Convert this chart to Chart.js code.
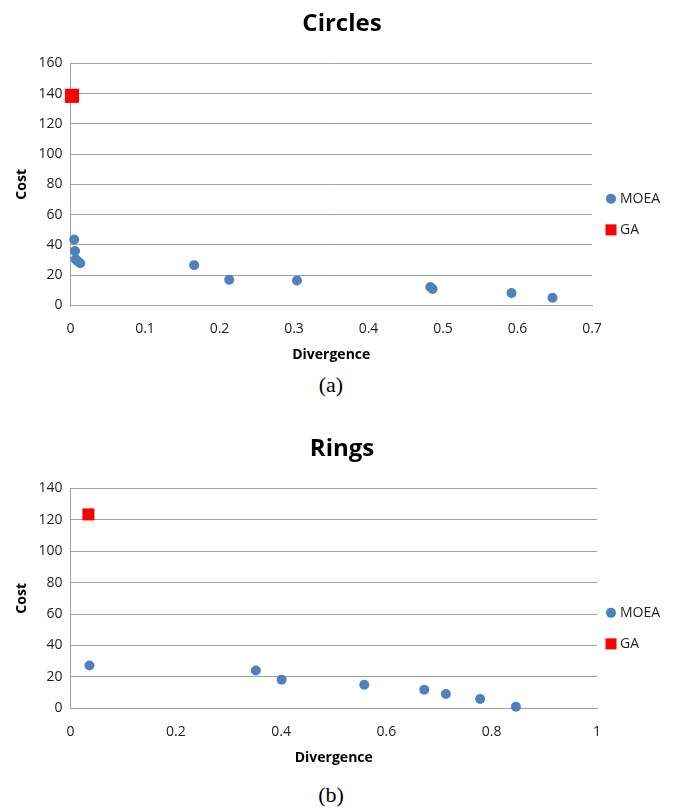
<!DOCTYPE html>
<html>
<head>
<meta charset="utf-8">
<script src="https://cdn.jsdelivr.net/npm/chart.js@4.4.0/dist/chart.umd.min.js"></script>
<style>
  body { margin: 0; background: #fff; width: 677px; height: 810px; position: relative; overflow: hidden; }
  .box { position: absolute; left: 0; width: 677px; }
  .cap { position: absolute; left: 0; width: 662px; text-align: center; font-family: "Liberation Serif", serif; font-size: 22px; line-height: 22px; color: #000; }
</style>
</head>
<body>
<div class="box" style="top:0;height:363px"><canvas id="circles"></canvas></div>
<div class="cap" style="top:374px">(a)</div>
<div class="box" style="top:425px;height:341px"><canvas id="rings"></canvas></div>
<div class="cap" style="top:784px">(b)</div>
<script>
// Circles (a)
const circlesMoeaX = [0.005, 0.006, 0.007, 0.010, 0.013, 0.166, 0.213, 0.304, 0.483, 0.486, 0.592, 0.647]
const circlesMoeaY = [43.6, 35.9, 30.4, 29.0, 27.9, 26.6, 17.0, 16.4, 12.2, 10.8, 8.2, 5.1]
const circlesGaX = [0.002]
const circlesGaY = [138.5]

// Rings (b)
const ringsMoeaX = [0.036, 0.352, 0.401, 0.558, 0.672, 0.713, 0.778, 0.846]
const ringsMoeaY = [27.3, 24.1, 18.3, 15.1, 11.9, 9.2, 6.0, 1.1]
const ringsGaX = [0.034]
const ringsGaY = [123.4]

const seriesNames = ["MOEA", "GA"]

const BLUE = "#4f81bd"
const RED = "#ff0000"
const GRID = "#a0a0a0"
const TEXT = "#222222"

Chart.defaults.font.family = "'Open Sans', sans-serif"

function toPoints(xs, ys) {
  return xs.map((x, i) => ({ x: x, y: ys[i] }))
}

// legend drawn to the right of the plot, like the Excel one
const sideLegend = {
  id: "sideLegend",
  afterDraw(chart) {
    const { ctx, chartArea } = chart
    const mid = (chartArea.top + chartArea.bottom) / 2 + 30
    ctx.save()
    ctx.font = "14px 'Open Sans'"
    ctx.textBaseline = "middle"
    chart.data.datasets.forEach((ds, i) => {
      const y = mid + (i - 0.5) * 31
      ctx.fillStyle = ds.backgroundColor
      if (ds.pointStyle === "rect") {
        ctx.fillRect(605.5, y - 5.5, 11, 11)
      } else {
        ctx.beginPath()
        ctx.arc(611, y, 5, 0, Math.PI * 2)
        ctx.fill()
      }
      ctx.fillStyle = TEXT
      ctx.fillText(ds.label, 620, y)
    })
    ctx.restore()
  },
}

function makeChart(id, title, moea, ga, xMax, xStep, yMax, gaRadius, rightPad) {
  return new Chart(document.getElementById(id), {
    type: "scatter",
    data: {
      datasets: [
        {
          label: seriesNames[0],
          data: moea,
          pointStyle: "circle",
          pointRadius: 5,
          backgroundColor: BLUE,
          borderColor: BLUE,
          borderWidth: 0,
          clip: false,
        },
        {
          label: seriesNames[1],
          data: ga,
          pointStyle: "rect",
          pointRadius: gaRadius,
          backgroundColor: RED,
          borderColor: RED,
          borderWidth: 0,
          clip: false,
        },
      ],
    },
    options: {
      responsive: true,
      maintainAspectRatio: false,
      animation: false,
      layout: { padding: { left: 7, right: 0, top: 0, bottom: 0 } },
      scales: {
        x: {
          min: 0,
          max: xMax,
          // keep room on the right for the legend
          afterFit: (scale) => { scale.paddingRight = rightPad },
          ticks: {
            stepSize: xStep,
            padding: 15,
            color: TEXT,
            font: { size: 14 },
            callback: (v) => String(Math.round(v * 10) / 10),
          },
          grid: { display: false, drawTicks: false },
          border: { display: true, color: GRID, width: 1 },
          title: {
            display: true,
            text: "Divergence",
            color: "#000",
            font: { size: 14, weight: "bold" },
            padding: { top: -6, bottom: 0 },
          },
        },
        y: {
          min: 0,
          max: yMax,
          ticks: { stepSize: 20, padding: 8, color: TEXT, font: { size: 14 } },
          grid: { color: GRID, lineWidth: 1, drawTicks: false },
          border: { display: true, color: GRID, width: 1 },
          title: {
            display: true,
            text: "Cost",
            color: "#000",
            font: { size: 14, weight: "bold" },
            padding: { top: 6.7, bottom: 0 },
          },
        },
      },
      plugins: {
        legend: { display: false },
        tooltip: { enabled: false },
        title: {
          display: true,
          text: title,
          color: "#000",
          font: { size: 24, weight: "bold" },
          padding: { top: 10, bottom: 24.5 },
        },
      },
    },
    plugins: [sideLegend],
  })
}

makeChart("circles", "Circles",
  toPoints(circlesMoeaX, circlesMoeaY), toPoints(circlesGaX, circlesGaY),
  0.7, 0.1, 160, 10, 85)

makeChart("rings", "Rings",
  toPoints(ringsMoeaX, ringsMoeaY), toPoints(ringsGaX, ringsGaY),
  1, 0.2, 140, 8.5, 80)
</script>
</body>
</html>
